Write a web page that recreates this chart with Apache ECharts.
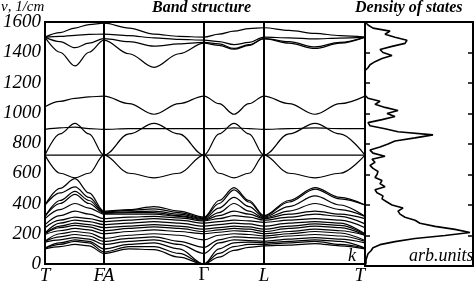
<!DOCTYPE html>
<html>
<head>
<meta charset="utf-8">
<script src="https://cdn.jsdelivr.net/npm/echarts@6/dist/echarts.min.js"></script>
<style>
html,body{margin:0;padding:0;background:#fff;}
#chart{width:474px;height:285px;}
</style>
</head>
<body>
<div id="chart"></div>
<script>
// path positions (T, FA, Γ, L, T) and the sampled k points
var kPoints = [0, 59, 159, 219, 320];
var kNames = ['T', 'FA', 'Γ', 'L', 'T'];
var kSamples = [0, 15, 30, 44, 59, 84, 109, 134, 159, 174, 189, 204, 219, 244, 270, 295, 320];

// bands, cm^-1, one value per sample point
var bandsHigh = [
  [1500,1530,1560,1583,1592, 1560,1520,1505,1500, 1520,1540,1556,1562, 1545,1525,1510,1500],
  [1500,1505,1512,1518,1520, 1510,1495,1485,1480, 1470,1450,1465,1500, 1495,1488,1494,1500],
  [1500,1470,1430,1460,1490, 1470,1440,1455,1465, 1455,1425,1450,1490, 1470,1435,1465,1500],
  [1500,1400,1310,1400,1480, 1390,1300,1390,1460, 1445,1420,1445,1490, 1460,1425,1460,1500]
];
var bandsMid = [
  [1040,1075,1095,1105,1110, 1060,990,1060,1110, 1060,990,1060,1110, 1060,990,1060,1110],
  [890,900,905,895,890, 895,895,895,895, 895,900,895,890, 895,900,895,895],
  [720,720,720,720,720, 720,720,720,720, 720,720,720,720, 720,720,720,720],
  [720,860,930,860,720, 860,930,860,720, 860,930,860,720, 860,930,860,720],
  [720,600,570,600,720, 600,570,600,720, 600,570,600,720, 600,570,600,720]
];
var bandsLow = [
  [390,500,564,470,350, 360,380,350,310, 420,505,420,320, 420,505,440,390],
  [390,470,510,440,345, 355,365,340,305, 400,490,410,315, 410,495,430,390],
  [315,420,480,420,340, 345,350,330,300, 370,440,380,310, 380,450,390,315],
  [315,400,460,400,335, 340,340,320,295, 340,400,350,305, 350,400,360,315],
  [300,360,400,370,330, 330,330,315,290, 320,350,330,300, 330,350,330,300],
  [260,320,350,330,300, 310,315,305,285, 300,320,310,290, 310,330,315,265],
  [240,290,310,300,280, 290,300,290,270, 280,290,285,275, 290,300,290,240],
  [205,270,290,280,260, 270,280,270,250, 260,270,265,250, 270,280,270,200],
  [200,250,270,260,240, 250,260,250,230, 240,250,245,230, 250,265,255,195],
  [200,240,255,245,220, 235,245,235,215, 225,235,230,215, 235,250,240,190],
  [195,220,235,225,200, 215,225,215,200, 210,220,215,200, 215,230,220,190],
  [150,200,215,205,170, 190,200,190,160, 190,200,195,185, 200,215,205,155],
  [150,180,195,185,150, 170,180,150,110, 160,180,175,170, 185,195,185,150],
  [145,160,175,165,130, 150,160,130,70, 140,160,155,150, 165,175,165,140],
  [105,140,160,150,100, 130,140,100,0, 100,140,145,140, 150,160,150,105],
  [105,130,150,140,80, 115,115,70,0, 70,115,130,130, 140,150,130,105],
  [100,115,130,120,70, 100,95,45,0, 45,90,110,120, 125,135,120,100]
];

// density of states, every 20 cm^-1 from 0 to 1600
var dosFreq = [];
for (var f = 0; f <= 1600; f += 20) dosFreq.push(f);
var dosValues = [
  0,1,1,2,3,6,8,15,30,50,
  80,105,90,70,55,50,40,35,33,38,
  27,22,17,18,12,10,20,15,17,10,
  12,13,8,5,10,7,20,8,5,15,
  23,30,50,68,33,20,5,3,17,30,
  22,33,20,10,15,3,0,0,0,0,
  0,0,0,0,0,3,5,10,17,27,
  18,15,27,40,42,30,20,25,8,3,
  0
];

var allBands = bandsHigh.concat(bandsMid, bandsLow);
var series = allBands.map(function (b) {
  return {
    type: 'line', xAxisIndex: 0, yAxisIndex: 0,
    smooth: 0.35, smoothMonotone: 'x', symbol: 'none', silent: true,
    lineStyle: {color: '#000', width: 1.2},
    data: kSamples.map(function (x, i) { return [x, b[i]]; })
  };
});
// symmetry lines
series.push({
  type: 'line', xAxisIndex: 0, yAxisIndex: 0, data: [], silent: true,
  markLine: {
    symbol: 'none', silent: true, label: {show: false},
    lineStyle: {color: '#000', width: 2, type: 'solid'},
    data: kPoints.slice(1, 4).map(function (x) { return {xAxis: x}; })
  }
});
series.push({
  type: 'line', xAxisIndex: 1, yAxisIndex: 1, symbol: 'none', silent: true,
  lineStyle: {color: '#000', width: 1.6},
  data: dosFreq.map(function (f, i) { return [dosValues[i], f]; })
});

var serif = 'Liberation Serif';
var chart = echarts.init(document.getElementById('chart'));
chart.setOption({
  animation: false,
  grid: [
    {left: 45, top: 22, width: 320, height: 244, show: true, borderColor: '#000', borderWidth: 2},
    {left: 365, top: 22, width: 108, height: 244, show: true, borderColor: '#000', borderWidth: 2}
  ],
  xAxis: [
    {type: 'value', gridIndex: 0, min: 0, max: 320,
     axisLine: {lineStyle: {color: '#000', width: 2}}, axisTick: {show: false}, splitLine: {show: false},
     axisLabel: {customValues: kPoints, color: '#000', fontFamily: serif, fontStyle: 'italic', fontSize: 19,
       margin: 2, alignMaxLabel: 'right',
       formatter: function (v) { var n = kNames[kPoints.indexOf(v)]; return n === 'Γ' ? '{g|Γ}' : n; },
       rich: {g: {fontStyle: 'normal', fontFamily: serif, fontSize: 19, color: '#000'}}}},
    {type: 'value', gridIndex: 1, min: 0, max: 108, show: false}
  ],
  yAxis: [
    {type: 'value', gridIndex: 0, min: 0, max: 1600, interval: 200,
     axisLine: {show: true, lineStyle: {color: '#000', width: 2}}, axisTick: {show: false}, splitLine: {show: false},
     axisLabel: {color: '#000', fontFamily: serif, fontStyle: 'italic', fontSize: 19, margin: 4,
       formatter: function (v) { return String(v); }}},
    {type: 'value', gridIndex: 1, min: 0, max: 1600, interval: 200,
     axisLine: {show: true, lineStyle: {color: '#000', width: 2}},
     axisTick: {inside: true, length: 5, lineStyle: {color: '#000', width: 1.5}},
     axisLabel: {show: false}, splitLine: {show: false}},
    {type: 'value', gridIndex: 1, position: 'right', min: 0, max: 1600, interval: 200,
     axisLine: {show: true, lineStyle: {color: '#000', width: 2}},
     axisTick: {inside: true, length: 5, lineStyle: {color: '#000', width: 1.5}},
     axisLabel: {show: false}, splitLine: {show: false}}
  ],
  graphic: [
    {type: 'text', left: 1, top: 0, style: {text: 'ν, 1/cm', font: 'italic 15px ' + serif, fill: '#000'}},
    {type: 'text', left: 152, top: 0, style: {text: 'Band structure', font: 'italic bold 16px ' + serif, fill: '#000'}},
    {type: 'text', left: 355, top: 0, style: {text: 'Density of states', font: 'italic bold 16px ' + serif, fill: '#000'}},
    {type: 'text', left: 348, top: 247, style: {text: 'k', font: 'italic 18px ' + serif, fill: '#000'}},
    {type: 'text', left: 409, top: 247, style: {text: 'arb.units', font: 'italic 18px ' + serif, fill: '#000'}}
  ],
  series: series
});
</script>
</body>
</html>
